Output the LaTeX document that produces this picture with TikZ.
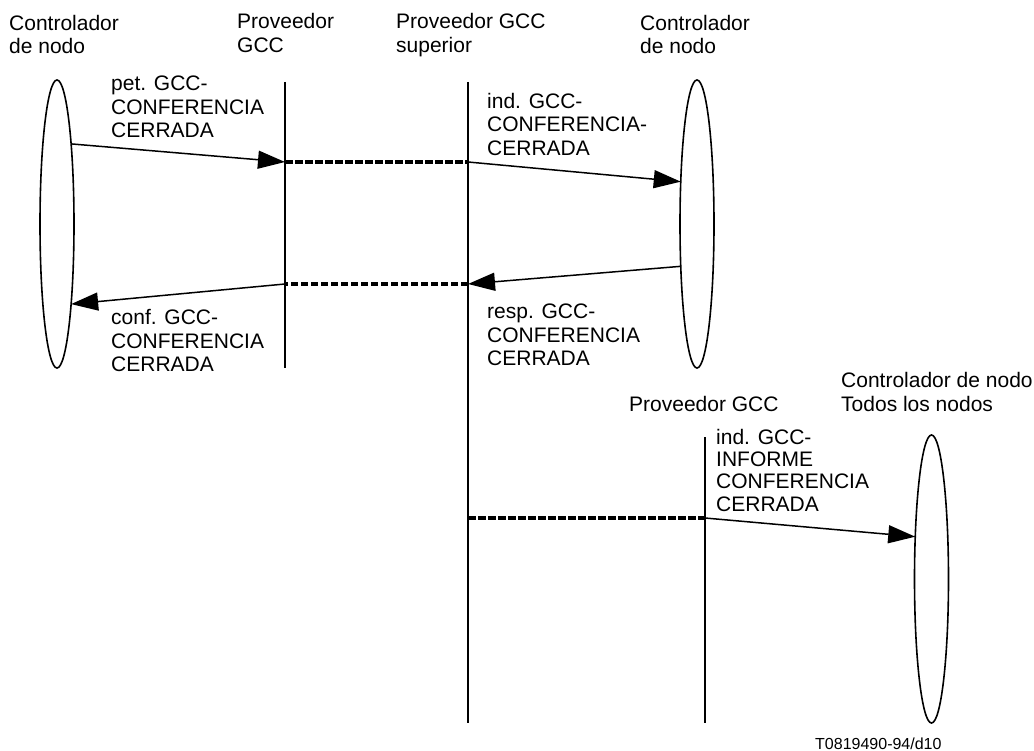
\documentclass[tikz,border=0pt]{standalone}
\usepackage{fontspec}
\setmainfont{Liberation Sans}
\usetikzlibrary{arrows.meta,shapes.geometric}

\tikzset{
  lbl/.style={anchor=base west,align=left,inner sep=0pt,font=\fontsize{21}{23.5}\selectfont},
  ctrl/.style={draw,ellipse,line width=1.6pt,minimum width=34pt,minimum height=288pt,inner sep=0pt,outer sep=0pt},
  life/.style={line width=2.5pt},
  msg/.style={line width=1.5pt,-{Triangle[length=27pt,width=18pt]}},
  relay/.style={line width=3.8pt,dash pattern=on 7.5pt off 2.5pt},
}

\begin{document}
\begin{tikzpicture}[x=1pt,y=-1pt]
\useasboundingbox (0,0) rectangle (1034,751);
% headings (placed at the baseline of their last line)
\node[lbl] (hctrl) at (9,54) {Controlador\\de nodo};
\node[lbl] (hprov) at (237,52.5) {Proveedor\\GCC};
\node[lbl] (hsup) at (396,52.5) {Proveedor GCC\\superior};
\node[lbl] (hctrlr) at (640,54) {Controlador\\de nodo};
\node[lbl] (hall) at (841,411) {Controlador de nodo\\Todos los nodos};
\node[lbl] (hprovr) at (629,411) {Proveedor GCC};
% node controllers
\node[ctrl] (ctrlL) at (57,224) {};
\node[ctrl] (ctrlR) at (697,224) {};
\node[ctrl] (ctrlA) at (931.5,579) {};
% provider lines
\coordinate (provT) at (285,82);
\coordinate (provB) at (285,368);
\coordinate (supT) at (468,82);
\coordinate (supB) at (468,723);
\coordinate (provrT) at (705,437);
\coordinate (provrB) at (705,723);
\draw[life] (provT) -- (provB);
\draw[life] (supT) -- (supB);
\draw[life] (provrT) -- (provrB);
% request / indication
\coordinate (req) at (285,162);
\coordinate (ind) at (468,162);
\draw[msg] (ctrlL.80.3) -- (req);
\draw[relay] (req) -- (ind);
\draw[msg] (ind) -- (ctrlR.111.2);
\node[lbl] (lreq) at (111,138) {pet. GCC-\\CONFERENCIA\\CERRADA};
\node[lbl] (lind) at (487,155.5) {ind. GCC-\\CONFERENCIA-\\CERRADA};
% response / confirm
\coordinate (rsp) at (468,284);
\coordinate (cnf) at (285,284);
\draw[msg] (ctrlR.-111.6) -- (rsp);
\draw[relay] (rsp) -- (cnf);
\draw[msg] (cnf) -- (ctrlL.-80);
\node[lbl] (lrsp) at (487,366) {resp. GCC-\\CONFERENCIA\\CERRADA};
\node[lbl] (lcnf) at (111,371.5) {conf. GCC-\\CONFERENCIA\\CERRADA};
% report to all nodes
\coordinate (rptS) at (468,518);
\coordinate (rptP) at (705,518);
\draw[relay] (rptS) -- (rptP);
\draw[msg] (rptP) -- (ctrlA.111.6);
\node[lbl,font=\fontsize{21}{22.3}\selectfont] (lrpt) at (716,511) {ind. GCC-\\INFORME\\CONFERENCIA\\CERRADA};
\node[lbl,font=\fontsize{16}{18}\selectfont] (ref) at (815,749) {T0819490-94/d10};
\end{tikzpicture}
\end{document}
